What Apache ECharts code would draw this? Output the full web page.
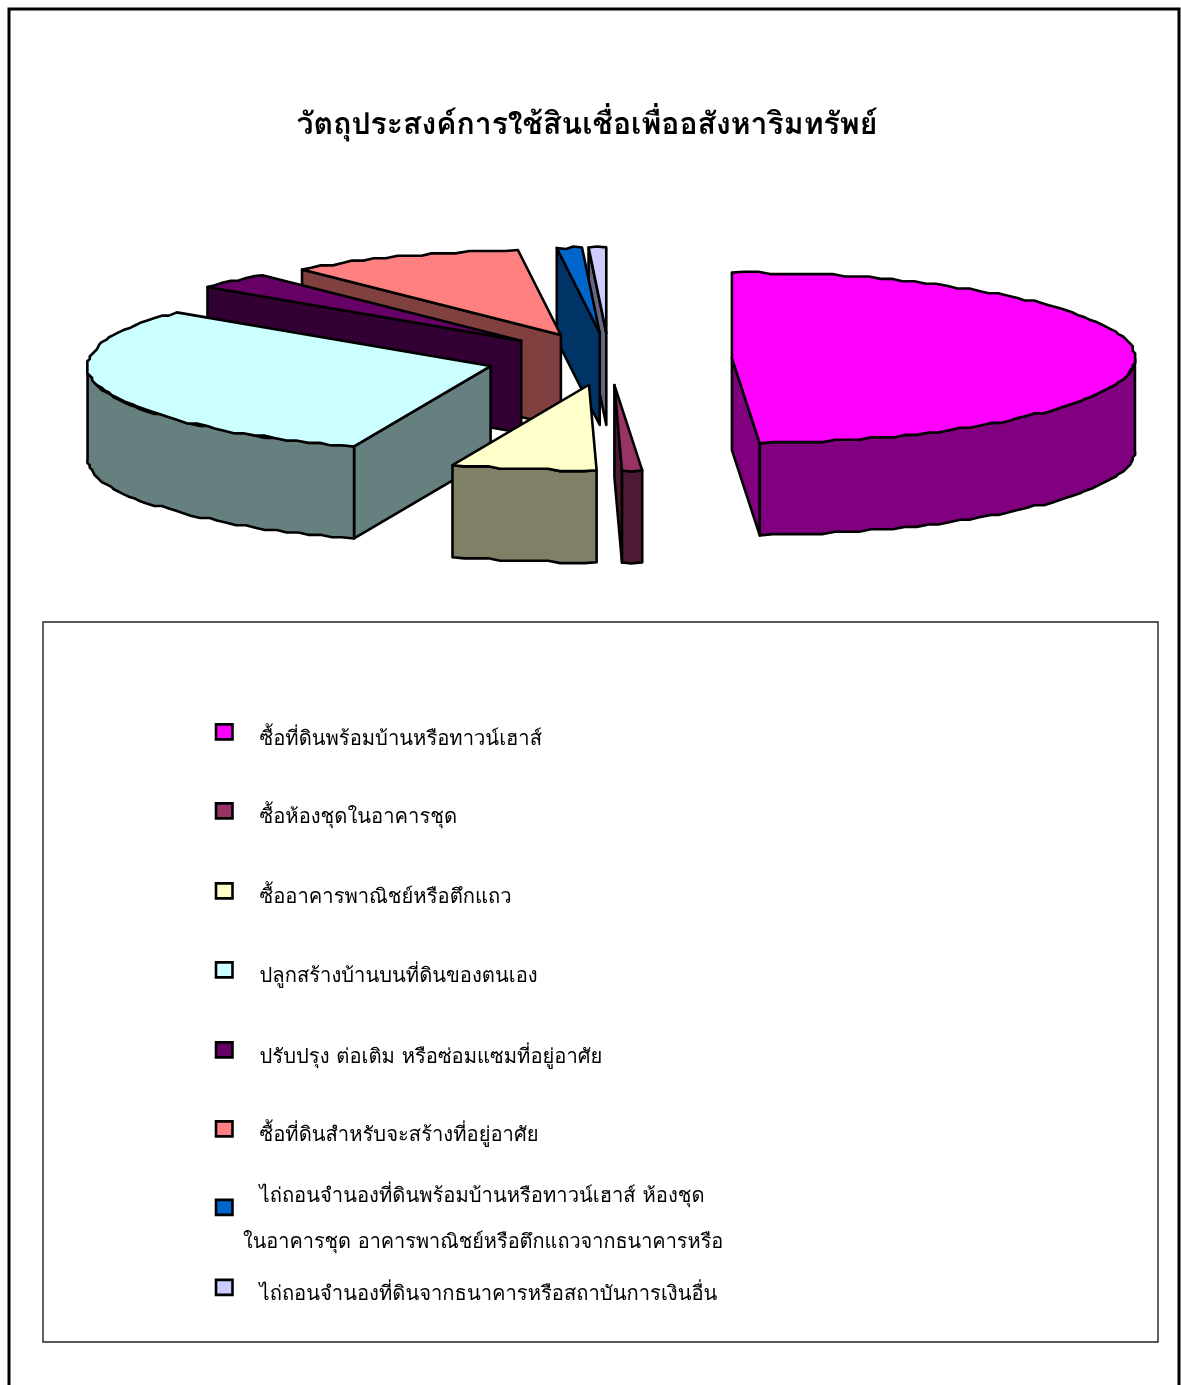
<!DOCTYPE html>
<html><head><meta charset="utf-8">
<style>html,body{margin:0;padding:0;background:#fff}#c{width:1181px;height:1385px}</style>
<script src="https://cdn.jsdelivr.net/npm/echarts@6/dist/echarts.min.js"></script>
</head><body><div id="c"></div>
<script>
// Purpose of property credit: share of each category, in percent
const categories = [
  'ซื้อที่ดินพร้อมบ้านหรือทาวน์เฮาส์',
  'ซื้อห้องชุดในอาคารชุด',
  'ซื้ออาคารพาณิชย์หรือตึกแถว',
  'ปลูกสร้างบ้านบนที่ดินของตนเอง',
  'ปรับปรุง ต่อเติม หรือซ่อมแซมที่อยู่อาศัย',
  'ซื้อที่ดินสำหรับจะสร้างที่อยู่อาศัย',
  'ไถ่ถอนจำนองที่ดินพร้อมบ้านหรือทาวน์เฮาส์ ห้องชุด',
  'ไถ่ถอนจำนองที่ดินจากธนาคารหรือสถาบันการเงินอื่น'
];
const shares = [48.9, 0.8, 5.8, 30.3, 3.1, 9.4, 1.0, 0.7];
const topColors = ['#FF00FF','#993366','#FFFFCC','#CCFFFF','#660066','#FF8080','#0066CC','#CCCCFF'];
const wallColors = ['#800080','#4D1A33','#808066','#668080','#330033','#804040','#003366','#666680'];
const paintOrder = [7,6,5,4,3,2,1,0];
const wrappedLine = 'ในอาคารชุด อาคารพาณิชย์หรือตึกแถวจากธนาคารหรือ';
const titleText = 'วัตถุประสงค์การใช้สินเชื่อเพื่ออสังหาริมทรัพย์';

// Pie geometry: centre, ellipse radii, explosion distance, extrusion height, outline grid
const CX=609, CY=359, RX=403, RY=85.5, EXPLODE=123, DEPTH=92, GRID=2.4;
const thaiFont='"Norasi","Loma","Garuda","Noto Sans Thai","Noto Sans",sans-serif';
const legendFontSize=20.2;
const total = shares.reduce((a,b)=>a+b,0);
const rad = d => d*Math.PI/180;
const snap = v => Math.round(v/GRID)*GRID;
let run = 0;
const spans = shares.map(v=>{const a=run/total*360; run+=v; return [a,run/total*360];});

function slicePieces(i){
  const [a,b]=spans[i], mid=(a+b)/2;
  const ox=CX+EXPLODE*Math.sin(rad(mid)), oy=CY-EXPLODE*(RY/RX)*Math.cos(rad(mid));
  const rim=(t,d=0)=>[ox+RX*Math.sin(rad(t)), oy-RY*Math.cos(rad(t))+d];
  // The rim is a coarse polyline on a device grid, which gives the outline its stepped look
  const arc=(s,e,d=0)=>{const out=[rim(s,d)],n=Math.max(2,Math.ceil((e-s)/1.8));
    for(let k=1;k<n;k++){const p=rim(s+(e-s)*k/n);
      out.push([ox+snap(p[0]-ox), oy+snap(p[1]-oy)+d]);}
    out.push(rim(e,d)); return out;};
  const line={stroke:'#000',lineWidth:2.6,lineJoin:'round'};
  const poly=(pts,fill)=>({type:'polygon',shape:{points:pts},style:{fill,...line}});
  const kids=[];
  const wall=wallColors[i];
  if(Math.sin(rad(a))<-1e-6) kids.push(poly([[ox,oy],rim(a),rim(a,DEPTH),[ox,oy+DEPTH]],wall));
  if(Math.sin(rad(b))>1e-6) kids.push(poly([[ox,oy],rim(b),rim(b,DEPTH),[ox,oy+DEPTH]],wall));
  const s=Math.max(a,90), e=Math.min(b,270);
  if(e>s) kids.push(poly(arc(s,e).concat(arc(s,e,DEPTH).reverse()),wall));
  kids.push(poly([[ox,oy]].concat(arc(a,b)),topColors[i]));
  return {type:'group',children:kids};
}

// Legend rows: swatch centre and how far each label sits from it
const swatchCentres=[735,814,894,973,1053,1132,1210.5,1290.5];
const labelShifts=[9,8,8,8,9,8,-10,8];
const option={
  animation:false,
  title:{text:titleText,left:582,top:107,textAlign:'center',
    textStyle:{fontFamily:thaiFont,fontSize:30.2,fontWeight:'bold',color:'#000'}},
  legend:categories.map((n,i)=>{
    const shift=labelShifts[i];
    const pad=[Math.max(shift,0)*2,0,Math.max(-shift,0)*2,22];
    const h=legendFontSize*1.3+pad[0]+pad[2];
    return {data:[n],left:214.7,top:swatchCentres[i]-h/2,itemWidth:16.5,itemHeight:15,padding:0,
      itemStyle:{borderColor:'#000',borderWidth:2.6},icon:'rect',selectedMode:false,
      formatter:'{t|{name}}',
      textStyle:{rich:{t:{fontSize:legendFontSize,lineHeight:legendFontSize*1.3,color:'#000',fontFamily:thaiFont,padding:pad}}}};
  }),
  graphic:[
    {type:'rect',shape:{x:9,y:9,width:1170,height:1400},style:{fill:'none',stroke:'#000',lineWidth:3},z:-1},
    {type:'rect',shape:{x:43,y:622,width:1115,height:720},style:{fill:'none',stroke:'#222',lineWidth:1.4},z:-1},
    {type:'text',x:243,y:1244,style:{text:wrappedLine,fontSize:19.9,fill:'#000',verticalAlign:'middle',fontFamily:thaiFont}}
  ],
  series:paintOrder.map(i=>({type:'custom',name:categories[i],coordinateSystem:'none',
    itemStyle:{color:topColors[i]},data:[shares[i]],renderItem:()=>slicePieces(i)}))
};
echarts.init(document.getElementById('c')).setOption(option);
</script></body></html>
